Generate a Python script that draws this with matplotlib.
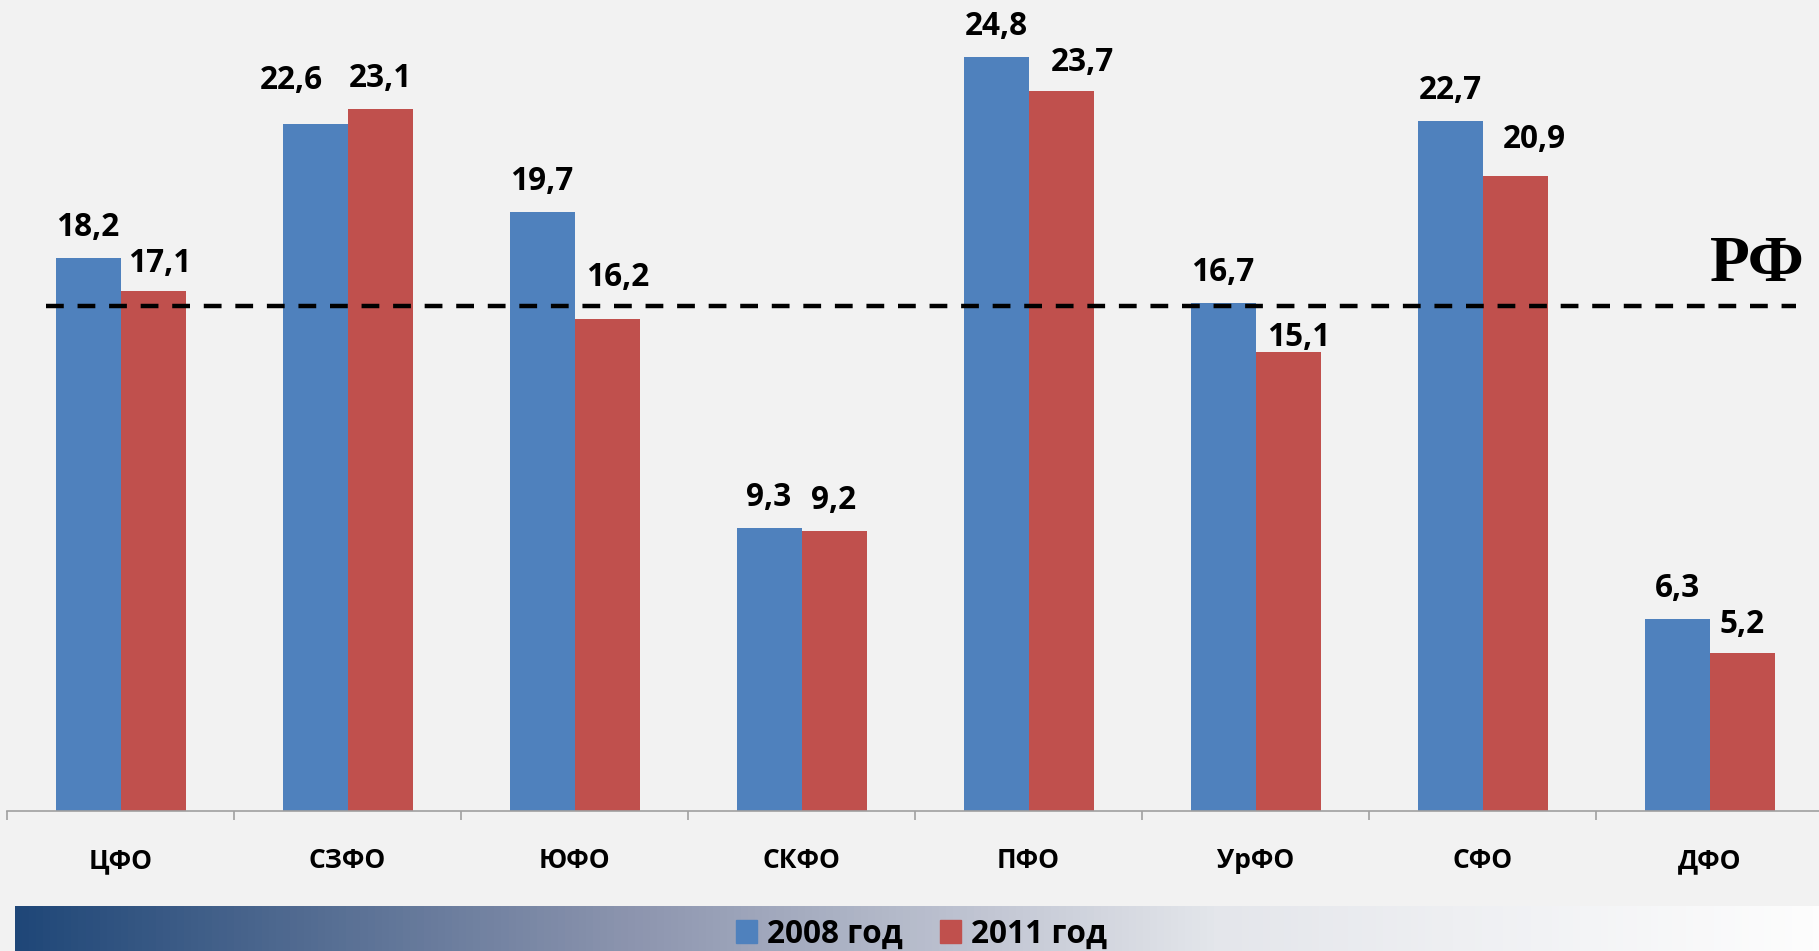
import numpy as np
import matplotlib
matplotlib.use("Agg")
import matplotlib.pyplot as plt
from matplotlib.colors import LinearSegmentedColormap
from matplotlib.patches import Patch

plt.rcParams['font.family'] = ['Open Sans', 'DejaVu Sans']

# данные
districts = ["ЦФО", "СЗФО", "ЮФО", "СКФО", "ПФО", "УрФО", "СФО", "ДФО"]
y2008 = [18.2, 22.6, 19.7, 9.3, 24.8, 16.7, 22.7, 6.3]
y2011 = [17.1, 23.1, 16.2, 9.2, 23.7, 15.1, 20.9, 5.2]
rf_level = 16.6
series_names = ["2008 год", "2011 год"]

# ручные сдвиги подписей (px), как на слайде
nudge2008 = [(0, 0), (-24, 13), (0, 0), (0, 0), (0, 0), (0, 0), (0, 0), (0, 0)]
nudge2011 = [(7, -3), (0, 0), (11, 11), (0, 0), (21, -2), (11, -16), (19, 6), (0, -2)]

W, H = 1819, 951
bg = '#F2F2F2'
c_blue = '#4F81BD'
c_red = '#C0504D'

fig = plt.figure(figsize=(W / 100, H / 100), dpi=100, facecolor=bg)
ax = fig.add_axes([7 / W, 1 - 811 / H, 1816 / W, 811 / H])
ax.set_facecolor(bg)

x = np.arange(len(districts))
bw = 65 / 227
b1 = ax.bar(x - bw / 2, y2008, bw, color=c_blue, label=series_names[0])
b2 = ax.bar(x + bw / 2, y2011, bw, color=c_red, label=series_names[1])

ax.set_xlim(-0.5, len(districts) - 0.5)
ax.set_ylim(0, 811 / 30.4)

px = 72 / 100
for bars, vals, nud in ((b1, y2008, nudge2008), (b2, y2011, nudge2011)):
    for b, v, (dx, dy) in zip(bars, vals, nud):
        ax.annotate(f"{v:.1f}".replace(".", ","),
                    (b.get_x() + b.get_width() / 2, v),
                    xytext=(dx * px, (22 + dy) * px), textcoords='offset points',
                    ha='center', va='baseline', fontsize=22.7, fontweight='bold')

# линия РФ
ax.plot([46 / 1816 * 8 - 0.5 - 7 / 227, 1796 / 1816 * 8 - 0.5 - 7 / 227], [rf_level, rf_level],
        color='black', lw=3.2, dashes=(4, 3.1), solid_capstyle='butt', dash_capstyle='butt')
fig.text(1710 / W, 1 - 281 / H, "РФ", family='Liberation Serif', fontweight='bold',
         fontsize=47, ha='left', va='baseline')

for s in ['top', 'right', 'left']:
    ax.spines[s].set_visible(False)
ax.spines['bottom'].set_color('#A0A0A0')
ax.spines['bottom'].set_linewidth(1.2)
ax.set_yticks([])
ax.set_xticks(x)
ax.set_xticklabels(districts, fontsize=19, fontweight='bold')
ax.tick_params(axis='x', which='major', length=0, pad=26)
ax.set_xticks(np.arange(-0.5, len(districts)), minor=True)
ax.tick_params(axis='x', which='minor', length=6.5, width=1.2, color='#A0A0A0')

# градиентная полоса внизу
gax = fig.add_axes([15 / W, 0, 1 - 15 / W, 45 / H])
cmap = LinearSegmentedColormap.from_list('g', ['#1F4778', '#8A93AD', '#E4E6EB', '#FDFDFD'])
gax.imshow(np.linspace(0, 1, 512)[None, :], aspect='auto', cmap=cmap, extent=[0, 1, 0, 1])
gax.axis('off')

handles = [Patch(color=c_blue), Patch(color=c_red)]
fig.legend(handles, series_names, loc='center', bbox_to_anchor=(921.5 / W, 1 - 934 / H),
           ncol=2, frameon=False, prop={'size': 22.7, 'weight': 'bold'},
           handlelength=0.67, handleheight=0.7, handletextpad=0.32, columnspacing=1.17,
           borderpad=0, borderaxespad=0)

fig.savefig('out.png', dpi=100, facecolor=bg)
